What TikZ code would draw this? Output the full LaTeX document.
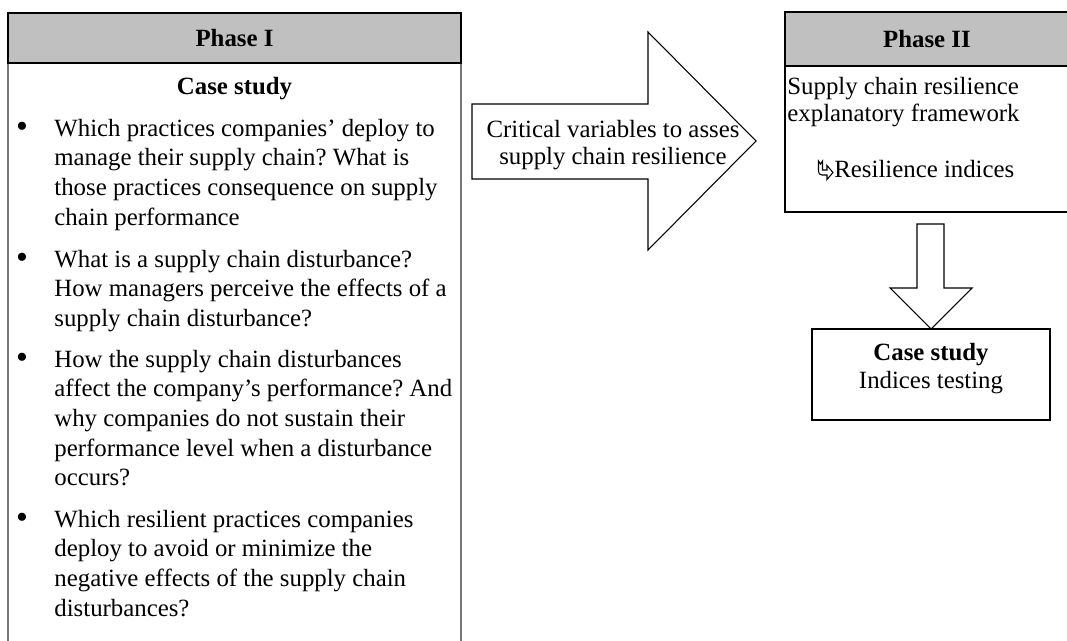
\documentclass[tikz,border=0pt]{standalone}
\usepackage{fontspec}
\setmainfont{Liberation Serif}
\usetikzlibrary{positioning}
\definecolor{headgray}{RGB}{192,192,192}
\definecolor{sidegray}{RGB}{120,120,120}
\newcommand{\toplines}[1]{\begin{tabular}[t]{@{}l@{}}#1\end{tabular}}
\frenchspacing

\begin{document}
\begin{tikzpicture}[x=0.4715pt,y=-0.4715pt,
  txt/.style={inner sep=0pt,font=\fontsize{11.7}{14}\selectfont},
  qtext/.style={txt,anchor=base west},
  dot/.style={inner sep=0pt,font=\fontsize{16}{16}\selectfont},
  blockarrow/.style={draw=black,line width=0.5pt,fill=white,line join=miter}]
  \useasboundingbox (0,0) rectangle (1067,641);

  \draw[sidegray,line width=0.7pt] (8,13) rectangle (461,660);
  \filldraw[fill=headgray,draw=black,line width=0.7pt] (8,63) -- (8,13) -- (461,13) -- (461,63) -- cycle;
  \node[txt] (ph1) at (234.5,38) {\textbf{Phase I}};
  \node[txt,anchor=base] (cs1) at (234.5,94) {\textbf{Case study}};
  \node[qtext] (q1) at (54,136) {\toplines{Which practices companies’ deploy to\\manage their supply chain? What is\\those practices consequence on supply\\chain performance}};
  \node[qtext] (q2) at (54,267) {\toplines{What is a supply chain disturbance?\\How managers perceive the effects of a\\supply chain disturbance?}};
  \node[qtext] (q3) at (54,367) {\toplines{How the supply chain disturbances\\affect the company’s performance? And\\why companies do not sustain their\\performance level when a disturbance\\occurs?}};
  \node[qtext] (q4) at (54,527) {\toplines{Which resilient practices companies\\deploy to avoid or minimize the\\negative effects of the supply chain\\disturbances?}};
  \foreach \y [count=\i] in {136,267,367,527}
    \node[dot] (b\i) at (22,\y-6) {•};

  \draw[blockarrow] (472,104) -- (648,104) -- (648,32) -- (756,141)
    -- (648,250) -- (648,179) -- (472,179) -- cycle;
  \node[txt,align=center,font=\fontsize{11.7}{12.8}\selectfont] (crit) at (613,145)
    {Critical variables to asses\\supply chain resilience};

  \draw[black,line width=0.7pt] (785,12) rectangle (1069,212);
  \filldraw[fill=headgray,draw=black,line width=0.7pt] (785,12) rectangle (1069,66);
  \node[txt] (ph2) at (927,39) {\textbf{Phase II}};
  \node[qtext,font=\fontsize{11.7}{12.3}\selectfont] (frame) at (787,95)
    {\toplines{Supply chain resilience\\explanatory framework}};
  \node[qtext] (ind) at (834,177) {Resilience indices};
  \draw[line width=0.5pt,line join=miter] (818.5,161) -- (820.5,164) -- (822.5,161) -- (822.5,170)
    -- (827,170) -- (827,165.5) -- (833,172.5) -- (827,179.5) -- (827,175)
    -- (822,175) .. controls (819.5,175) and (818.5,173.5) .. (818.5,171) -- cycle;

  \draw[blockarrow] (917,224) -- (944,224) -- (944,288) -- (972,288) -- (931,329)
    -- (890,288) -- (917,288) -- cycle;

  \draw[black,line width=0.7pt] (812,329) rectangle (1050,420);
  \node[txt,anchor=base] (cs2) at (931,360) {\textbf{Case study}};
  \node[txt,anchor=base] (test) at (931,388) {Indices testing};
\end{tikzpicture}
\end{document}
